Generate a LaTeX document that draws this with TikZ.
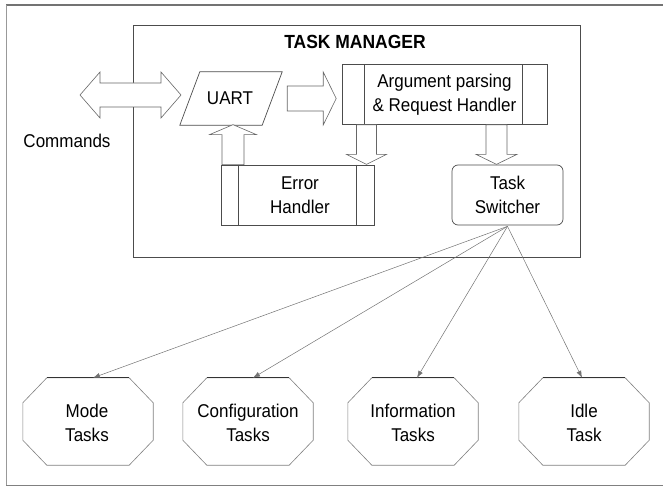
\documentclass[tikz,border=0pt]{standalone}
\usepackage{fontspec}
\setmainfont{Liberation Sans}[FakeStretch=0.92]
\usetikzlibrary{arrows.meta}
\begin{document}
\begin{tikzpicture}[x=1pt,y=-1pt,
  txt/.style={font=\fontsize{18.5}{23.5}\selectfont, align=center, inner sep=0pt},
  rectbox/.style={draw=black!70, line width=0.7pt, fill=white, txt},
  holder/.style={inner sep=0pt, txt},
  edgeline/.style={draw=black!70, line width=0.7pt},
  blockarrow/.style={draw=black!60, line width=0.6pt, fill=white},
  octo/.style={draw=black!50, line width=0.6pt, fill=white},
  link/.style={draw=black!55, line width=0.5pt, -{Latex[length=7pt,width=5pt]}}]

% page extent
\useasboundingbox (0,0) rectangle (663,489);

% outer frame
\draw[draw=black!55, line width=1.1pt] (663,5) -- (6,5);
\draw[draw=black!40, line width=0.8pt] (6,5) -- (6,485);
\draw[draw=black!50, line width=1pt] (6,485) -- (663,485);

% task manager container
\node[draw=black!70, line width=0.8pt, minimum width=447pt, minimum height=232pt, inner sep=0pt] (tm) at (356.5,141) {};
\node[txt, font=\fontsize{19}{21}\selectfont\bfseries] (title) at (355,42) {TASK MANAGER};

% Commands label
\node[txt] (cmd) at (67,141) {Commands};

% UART (parallelogram)
\node[holder, minimum width=102pt, minimum height=53pt] (uart) at (231,98.5) {};
\draw[edgeline, fill=white] ([xshift=20pt]uart.north west) -- (uart.north east)
  -- ([xshift=-20pt]uart.south east) -- (uart.south west) -- cycle;
\node[txt] (uartlbl) at (230,98) {UART};

% argument parsing & request handler
\node[rectbox, minimum width=205pt, minimum height=60pt] (arg) at (444.5,94.5)
  {Argument parsing\\\& Request Handler};
\draw[edgeline] ([xshift=23pt]arg.north west) -- ([xshift=23pt]arg.south west);
\draw[edgeline] ([xshift=-25pt]arg.north east) -- ([xshift=-25pt]arg.south east);

% error handler
\node[rectbox, minimum width=153pt, minimum height=60pt] (err) at (297.5,195) {};
\node[txt] (errlbl) at (300,195) {Error\\Handler};
\draw[edgeline] ([xshift=18pt]err.north west) -- ([xshift=18pt]err.south west);
\draw[edgeline] ([xshift=-18pt]err.north east) -- ([xshift=-18pt]err.south east);

% task switcher
\node[rectbox, rounded corners=6pt, minimum width=111pt, minimum height=60pt] (ts) at (507.5,195)
  {Task\\Switcher};

% block arrows
% bidirectional command arrow
\coordinate (cmdL) at (80,95);
\draw[blockarrow] (cmdL) -- ++(20,-23) -- ++(0,11) -- ++(61,0) -- ++(0,-11) -- ++(20,23)
  -- ++(-20,23) -- ++(0,-11) -- ++(-61,0) -- ++(0,11) -- cycle;
% UART to argument parser
\coordinate (ua) at ([xshift=5pt]uart.east);
\draw[blockarrow] (ua) ++(0,-12.5) -- ++(36,0) -- ++(0,-14) -- ++(13,26.5) -- ++(-13,26.5)
  -- ++(0,-14) -- ++(-36,0) -- cycle;
% argument parser to error handler
\coordinate (ae) at ([xshift=-78pt]arg.south);
\draw[blockarrow] (ae) ++(-10,0) -- ++(0,29.5) -- ++(-10,0) -- ++(20,10) -- ++(20,-10)
  -- ++(-10,0) -- ++(0,-29.5) -- cycle;
% argument parser to task switcher
\coordinate (at) at ([xshift=52pt]arg.south);
\draw[blockarrow] (at) ++(-10.5,0) -- ++(0,29.5) -- ++(-10,0) -- ++(20.5,10) -- ++(20.5,-10)
  -- ++(-10,0) -- ++(0,-29.5) -- cycle;
% error handler back to UART
\coordinate (eu) at ([xshift=-64.5pt]err.north);
\draw[blockarrow] (eu) ++(-11,0) -- ++(0,-30) -- ++(-12.5,0) -- ++(23.5,-10) -- ++(23.5,10)
  -- ++(-12.5,0) -- ++(0,30) -- cycle;

% task octagons
\node[holder, minimum width=130pt, minimum height=87pt] (mode) at (88,421.5) {};
\node[holder, minimum width=130pt, minimum height=87pt] (conf) at (248,421.5) {};
\node[holder, minimum width=130pt, minimum height=87pt] (info) at (413,421.5) {};
\node[holder, minimum width=130pt, minimum height=87pt] (idle) at (584,421.5) {};
\foreach \n in {mode,conf,info,idle}{
  \draw[octo] ([xshift=24pt]\n.north west) -- ([xshift=-24pt]\n.north east)
    -- ([yshift=-25pt]\n.north east) -- ([yshift=25pt]\n.south east)
    -- ([xshift=-24pt]\n.south east) -- ([xshift=24pt]\n.south west)
    -- ([yshift=25pt]\n.south west) -- ([yshift=-25pt]\n.north west) -- cycle;
  \draw[draw=black!80, line width=0.9pt] ([xshift=24pt]\n.north west) -- ([xshift=-24pt]\n.north east);
}
\node[txt] at (87,423) {Mode\\Tasks};
\node[txt] at (248,423) {Configuration\\Tasks};
\node[txt] at (413,423) {Information\\Tasks};
\node[txt] at (584,423) {Idle\\Task};

% task switcher dispatch links
\draw[link] ([yshift=-1pt]ts.south) -- ([xshift=5pt]mode.north);
\draw[link] ([yshift=-1pt]ts.south) -- ([xshift=5pt]conf.north);
\draw[link] ([yshift=-1pt]ts.south) -- ([xshift=4pt]info.north);
\draw[link] ([yshift=-1pt]ts.south) -- ([xshift=-2pt]idle.north);
\end{tikzpicture}
\end{document}
